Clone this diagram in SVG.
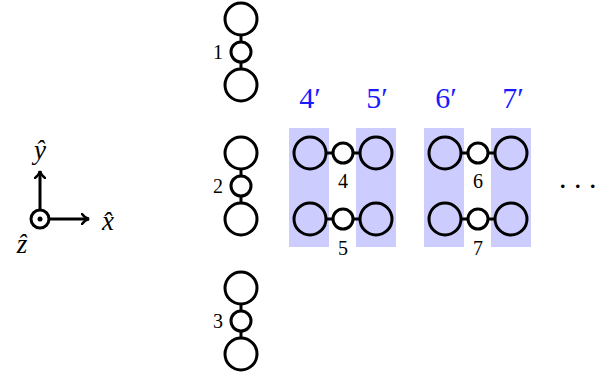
<svg xmlns="http://www.w3.org/2000/svg" width="608" height="377" viewBox="0 0 608 377">
<defs>
<style>
.big{fill:none;stroke:#000;stroke-width:3}
.sm{fill:#fff;stroke:#000;stroke-width:3}
.ln{stroke:#000;stroke-width:3;fill:none}
.sh{fill:#ccccff}
.num{font-family:"Liberation Serif",serif;font-size:20px;fill:#000;text-anchor:middle}
.bl{font-family:"Liberation Serif",serif;font-size:30px;fill:#1a1aff;text-anchor:middle}
.ax{font-family:"Liberation Serif",serif;font-style:italic;font-size:27px;fill:#000;text-anchor:middle}
</style>
<marker id="arr" viewBox="0 0 10 12" refX="8" refY="6" markerWidth="10" markerHeight="12" markerUnits="userSpaceOnUse" orient="auto">
<path d="M1,1 Q4,5 8,6 Q4,7 1,11" fill="none" stroke="#000" stroke-width="2.4" stroke-linecap="round"/>
</marker>
</defs>
<rect x="0" y="0" width="608" height="377" fill="#fff"/>

<g id="shading">
<rect class="sh" x="289" y="128" width="40" height="119"/>
<rect class="sh" x="356" y="128" width="40" height="119"/>
<rect class="sh" x="424" y="128" width="40" height="119"/>
<rect class="sh" x="491" y="128" width="40" height="119"/>
</g>

<g id="connectors">
<line class="ln" x1="241" y1="35" x2="241" y2="69"/>
<line class="ln" x1="241" y1="169" x2="241" y2="203"/>
<line class="ln" x1="241" y1="304" x2="241" y2="338"/>
<line class="ln" x1="326" y1="153" x2="360" y2="153"/>
<line class="ln" x1="326" y1="219" x2="360" y2="219"/>
<line class="ln" x1="461" y1="153" x2="495" y2="153"/>
<line class="ln" x1="461" y1="219" x2="495" y2="219"/>
<line class="ln" x1="40" y1="209" x2="40" y2="171" marker-end="url(#arr)"/>
<line class="ln" x1="50" y1="219" x2="89" y2="219" marker-end="url(#arr)"/>
</g>

<g id="chain1">
<circle class="big" cx="241" cy="19" r="16"/>
<circle class="sm" cx="241" cy="52" r="10"/>
<circle class="big" cx="241" cy="85" r="16"/>
<text class="num" x="218" y="59">1</text>
</g>
<g id="chain2">
<circle class="big" cx="241" cy="153" r="16"/>
<circle class="sm" cx="241" cy="186" r="10"/>
<circle class="big" cx="241" cy="219" r="16"/>
<text class="num" x="218" y="193">2</text>
</g>
<g id="chain3">
<circle class="big" cx="241" cy="288" r="16"/>
<circle class="sm" cx="241" cy="321" r="10"/>
<circle class="big" cx="241" cy="354" r="16"/>
<text class="num" x="218" y="328">3</text>
</g>

<g id="chain4">
<circle class="big" cx="310" cy="153" r="16"/>
<circle class="sm" cx="343" cy="153" r="10"/>
<circle class="big" cx="376" cy="153" r="16"/>
<text class="num" x="343" y="188">4</text>
</g>
<g id="chain5">
<circle class="big" cx="310" cy="219" r="16"/>
<circle class="sm" cx="343" cy="219" r="10"/>
<circle class="big" cx="376" cy="219" r="16"/>
<text class="num" x="343" y="255">5</text>
</g>
<g id="chain6">
<circle class="big" cx="445" cy="153" r="16"/>
<circle class="sm" cx="478" cy="153" r="10"/>
<circle class="big" cx="511" cy="153" r="16"/>
<text class="num" x="478" y="188">6</text>
</g>
<g id="chain7">
<circle class="big" cx="445" cy="219" r="16"/>
<circle class="sm" cx="478" cy="219" r="10"/>
<circle class="big" cx="511" cy="219" r="16"/>
<text class="num" x="478" y="255">7</text>
</g>

<g id="labels-prime">
<text class="bl" x="310" y="108">4′</text>
<text class="bl" x="377" y="108">5′</text>
<text class="bl" x="446" y="108">6′</text>
<text class="bl" x="513" y="108">7′</text>
</g>

<g id="dots">
<text x="559" y="188" font-family="Liberation Serif,serif" font-size="30" letter-spacing="7.5" fill="#000">...</text>
</g>

<g id="axes">
<circle class="big" cx="40" cy="219" r="9"/>
<circle cx="40" cy="219" r="2.5" fill="#000"/>
<text class="ax" x="40" y="159">ŷ</text>
<text class="ax" x="108" y="230">x̂</text>
<text class="ax" x="22" y="253">ẑ</text>
</g>
</svg>
